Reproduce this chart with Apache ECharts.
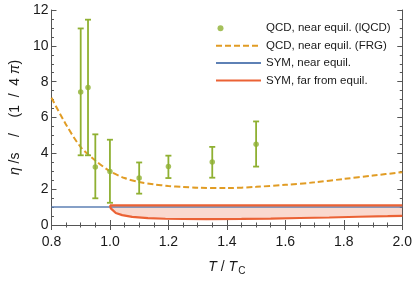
<!DOCTYPE html>
<html>
<head>
<meta charset="utf-8">
<script src="https://cdn.jsdelivr.net/npm/echarts@6/dist/echarts.min.js"></script>
<style>
html,body{margin:0;padding:0;background:#fff;}
#chart{width:415px;height:281px;}
</style>
</head>
<body>
<div id="chart"></div>
<script>
// lattice QCD points with error bars
var lqcdX  = [0.9, 0.925, 0.95, 1.0, 1.1, 1.2, 1.35, 1.5];
var lqcdY  = [7.42, 7.67, 3.24, 2.98, 2.62, 3.26, 3.51, 4.51];
var lqcdLo = [3.89, 3.89, 1.49, 1.24, 1.75, 2.62, 2.64, 3.26];
var lqcdHi = [10.97, 11.46, 5.06, 4.76, 3.49, 3.87, 4.36, 5.78];

// FRG curve
var frgX = [0.8, 0.85, 0.9, 0.95, 1.0, 1.05, 1.1, 1.15, 1.2, 1.25, 1.3, 1.4, 1.5, 1.6, 1.7, 1.8, 1.9, 2.0];
var frgY = [7.1, 5.6, 4.35, 3.6, 3.0, 2.62, 2.4, 2.27, 2.18, 2.12, 2.08, 2.06, 2.13, 2.24, 2.38, 2.57, 2.76, 2.95];

// SYM near equilibrium
var symNearX = [0.8, 2.0];
var symNearY = [1.0, 1.0];

// SYM far from equilibrium band
var symFarX  = [1.0, 1.003, 1.009, 1.02, 1.042, 1.076, 1.13, 1.19, 1.25, 1.33, 1.45, 1.55, 1.65, 1.75, 1.85, 1.95, 2.0];
var symFarLo = [1.1, 0.93, 0.82, 0.67, 0.55, 0.45, 0.38, 0.35, 0.335, 0.33, 0.34, 0.36, 0.39, 0.42, 0.46, 0.49, 0.51];
var symFarHi = [1.1, 1.1, 1.1, 1.1, 1.1, 1.1, 1.1, 1.1, 1.1, 1.1, 1.1, 1.1, 1.1, 1.1, 1.1, 1.1, 1.1];

// ticks
var xTicks = [0.8, 1.0, 1.2, 1.4, 1.6, 1.8, 2.0];
var yTicks = [0, 2, 4, 6, 8, 10, 12];

var GREEN = '#8FB032', ORANGE = '#E19C24', BLUE = '#5E81B5', RED = '#EB6235';
var FRAME = '#555555', TEXT = '#1a1a1a';
var FONT = 'Liberation Sans, Arial, sans-serif';

function zip(a, b) { return a.map(function (v, i) { return [v, b[i]]; }); }

var chart = echarts.init(document.getElementById('chart'), null, {renderer: 'canvas'});

function axisCommon(showLabels) {
  return {
    axisLine: {show: true, lineStyle: {color: FRAME, width: 1}},
    axisTick: {show: true, inside: true, length: 5, lineStyle: {color: FRAME, width: 1}},
    minorTick: {show: true, splitNumber: 4, length: 2.5, lineStyle: {color: FRAME, width: 1}},
    splitLine: {show: false},
    minorSplitLine: {show: false},
    axisLabel: {show: showLabels, color: TEXT, fontSize: 14, fontFamily: FONT}
  };
}

var xBottom = Object.assign(axisCommon(true), {
  type: 'value', position: 'bottom', min: xTicks[0], max: xTicks[xTicks.length - 1], interval: 0.2,
  name: '{i|T}{n| / }{i|T}{s|C}', nameLocation: 'middle', nameGap: 34,
  nameTextStyle: {
    color: TEXT, fontSize: 14, fontFamily: FONT,
    rich: {
      i: {fontStyle: 'italic', fontSize: 14, color: TEXT, fontFamily: FONT},
      n: {fontSize: 14, color: TEXT, fontFamily: FONT},
      s: {fontSize: 10, color: TEXT, padding: [7, 0, 0, 1], fontFamily: FONT}
    }
  }
});
xBottom.axisLabel.margin = 10;
xBottom.axisLabel.formatter = function (v) { return v.toFixed(1); };

var xTop = Object.assign(axisCommon(false), {
  type: 'value', position: 'top', min: xTicks[0], max: xTicks[xTicks.length - 1], interval: 0.2
});

var yLeft = Object.assign(axisCommon(true), {
  type: 'value', position: 'left', min: yTicks[0], max: yTicks[yTicks.length - 1], interval: 2,
  name: '{i|η}{n| /s    /    (1  /  4 }{i|π}{n|)}', nameLocation: 'middle', nameGap: 24, nameRotate: 90,
  nameTextStyle: {
    color: TEXT, fontSize: 14, fontFamily: FONT,
    rich: {
      i: {fontStyle: 'italic', fontSize: 14, color: TEXT, fontFamily: FONT},
      n: {fontSize: 14, color: TEXT, fontFamily: FONT}
    }
  }
});
yLeft.axisLabel.margin = 3;

var yRight = Object.assign(axisCommon(false), {
  type: 'value', position: 'right', min: yTicks[0], max: yTicks[yTicks.length - 1], interval: 2
});

var hideSym = {opacity: 0};

var option = {
  animation: false,
  backgroundColor: '#ffffff',
  grid: {left: 46, right: 11, top: 10, bottom: 51, containLabel: false},
  legend: {
    orient: 'vertical', left: 215, top: 22.3, padding: 0,
    itemWidth: 45, itemHeight: 12, itemGap: 5.4,
    textStyle: {color: TEXT, fontSize: 11.5, lineHeight: 12, fontFamily: FONT},
    data: [
      {name: 'QCD, near equil. (lQCD)', icon: 'path://M0,0 M45,12 M1.5,6 a3,3 0 1,0 6,0 a3,3 0 1,0 -6,0 Z'},
      {name: 'QCD, near equil. (FRG)', itemStyle: hideSym},
      {name: 'SYM, near equil.', itemStyle: hideSym},
      {name: 'SYM, far from equil.', itemStyle: hideSym}
    ]
  },
  xAxis: [xBottom, xTop],
  yAxis: [yLeft, yRight],
  series: [
    {
      name: 'band', type: 'custom', z: 1, silent: true,
      data: symFarX.map(function (x, i) { return [x, symFarLo[i], symFarHi[i]]; }),
      renderItem: function (params, api) {
        if (params.dataIndex !== 0) { return null; }
        var pts = [];
        for (var i = 0; i < symFarX.length; i++) { pts.push(api.coord([symFarX[i], symFarHi[i]])); }
        for (var j = symFarX.length - 1; j >= 0; j--) { pts.push(api.coord([symFarX[j], symFarLo[j]])); }
        return {type: 'polygon', shape: {points: pts}, style: {fill: 'rgba(235,98,53,0.24)'}};
      }
    },
    {
      name: 'SYM, near equil.', type: 'line', symbol: 'none',
      data: zip(symNearX, symNearY),
      lineStyle: {color: BLUE, width: 1.5}, itemStyle: {color: BLUE}, z: 2
    },
    {
      name: 'SYM, far from equil.', type: 'line', symbol: 'none',
      data: zip(symFarX, symFarLo),
      lineStyle: {color: RED, width: 2.2}, itemStyle: {color: RED}, z: 3
    },
    {
      name: 'SYM, far from equil.', type: 'line', symbol: 'none',
      data: zip(symFarX, symFarHi),
      lineStyle: {color: RED, width: 2.2}, itemStyle: {color: RED}, z: 3
    },
    {
      name: 'QCD, near equil. (FRG)', type: 'line', symbol: 'none', smooth: 0.3,
      data: zip(frgX, frgY),
      lineStyle: {color: ORANGE, width: 2, type: [6, 3]}, itemStyle: {color: ORANGE}, z: 4
    },
    {
      name: 'errbars', type: 'custom', z: 5,
      data: lqcdX.map(function (x, i) { return [x, lqcdLo[i], lqcdHi[i]]; }),
      renderItem: function (params, api) {
        var x = api.value(0);
        var lo = api.coord([x, api.value(1)]);
        var hi = api.coord([x, api.value(2)]);
        var w = 3;
        var st = {stroke: GREEN, lineWidth: 1.8};
        return {
          type: 'group',
          children: [
            {type: 'line', shape: {x1: lo[0], y1: lo[1], x2: hi[0], y2: hi[1]}, style: st},
            {type: 'line', shape: {x1: lo[0] - w, y1: lo[1], x2: lo[0] + w, y2: lo[1]}, style: st},
            {type: 'line', shape: {x1: hi[0] - w, y1: hi[1], x2: hi[0] + w, y2: hi[1]}, style: st}
          ]
        };
      }
    },
    {
      name: 'QCD, near equil. (lQCD)', type: 'scatter', symbol: 'circle', symbolSize: 5.5,
      data: zip(lqcdX, lqcdY), itemStyle: {color: GREEN}, z: 6
    }
  ]
};
chart.setOption(option);
</script>
</body>
</html>
